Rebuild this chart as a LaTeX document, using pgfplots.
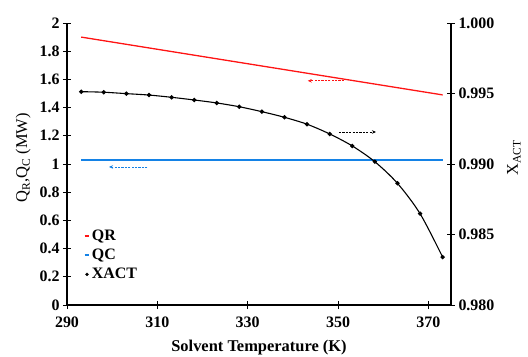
\documentclass[border=0pt]{standalone}
\usepackage{pgfplots}
\pgfplotsset{compat=1.18}
\usepackage{fontspec}
\setmainfont{Liberation Serif}
\usetikzlibrary{arrows.meta}
\definecolor{qrred}{RGB}{255,20,20}
\definecolor{qcblue}{RGB}{20,130,230}
\begin{document}
\begin{tikzpicture}
\path[use as bounding box] (-67bp,-52bp) rectangle (461bp,305bp);
\pgfplotsset{
  every axis/.append style={
    scale only axis, width=384bp, height=282bp,
    xmin=290, xmax=375,
    tick align=center, major tick length=8bp,
    axis line style={line width=1.1pt},
    tick style={line width=0.9pt, black},
    /pgf/number format/assume math mode=true,
    tick label style={font=\fontsize{16}{18}\selectfont\bfseries},
  }
}
\begin{axis}[
  axis x line*=bottom, axis y line*=left,
  ymin=0, ymax=2,
  xtick={290,310,330,350,370},
  ytick={0,0.2,0.4,0.6,0.8,1,1.2,1.4,1.6,1.8,2},
  yticklabels={0,0.2,0.4,0.6,0.8,1,1.2,1.4,1.6,1.8,2},
  xticklabel style={yshift=-4bp},
  xlabel={\fontsize{16.5}{18}\selectfont\bfseries Solvent Temperature (K)},
  ylabel={\fontsize{16.5}{18}\selectfont Q\textsubscript{R},Q\textsubscript{C} (MW)},
  xlabel style={yshift=-6bp},
  ylabel style={yshift=2bp, xshift=6bp},
  legend style={draw=none, fill=none, at={(0.035,0.28)}, anchor=north west,
    font=\fontsize{16}{18}\selectfont\bfseries, row sep=3bp,
    /tikz/every even column/.append style={column sep=0bp}},
  legend cell align=left,
]
\addplot[color=qrred, line width=1.3pt, legend image code/.code={\draw[qrred,line width=1.8pt] (0bp,0bp) -- (4.5bp,0bp);}] coordinates {(293.15,1.90) (373.15,1.49)};
\addlegendentry{QR}
\addplot[color=qcblue, line width=1.6pt, legend image code/.code={\draw[qcblue,line width=1.8pt] (0bp,0bp) -- (4.5bp,0bp);}] coordinates {(293.15,1.03) (373.15,1.03)};
\addlegendentry{QC}
\addlegendimage{legend image code/.code={\fill[black] (2.5bp,0bp) circle (1.5bp);}}
\addlegendentry{XACT}
\draw[qrred, line width=0.8pt, dash pattern=on 2.2bp off 1.2bp, -{Stealth[length=4bp,width=3.5bp]}] (axis cs:351.3,1.59) -- (axis cs:343.3,1.59);
\draw[black, line width=0.8pt, dash pattern=on 2.2bp off 1.2bp, -{Stealth[length=4bp,width=3.5bp]}] (axis cs:350.2,1.227) -- (axis cs:358.4,1.227);
\draw[qcblue, line width=0.8pt, dash pattern=on 2.2bp off 1.2bp, -{Stealth[length=4bp,width=3.5bp]}] (axis cs:307.8,0.979) -- (axis cs:299.3,0.979);
\end{axis}
\begin{axis}[
  axis x line=none, axis y line*=right,
  ymin=0.980, ymax=1.000,
  ytick={0.980,0.985,0.990,0.995,1.000},
  yticklabel style={/pgf/number format/fixed, /pgf/number format/fixed zerofill, /pgf/number format/precision=3},
  ylabel={\fontsize{16.5}{18}\selectfont X\textsubscript{ACT}},
  ylabel style={yshift=-6bp, xshift=6bp},
]
\addplot[black, line width=1.1pt, smooth, mark=*, mark size=1.6bp] coordinates {
(293.15,0.99513) (298.15,0.99509) (303.15,0.99499) (308.15,0.99489)
(313.15,0.99473) (318.15,0.99454) (323.15,0.99433) (328.15,0.99406)
(333.15,0.99371) (338.15,0.99331) (343.15,0.99282) (348.15,0.99213)
(353.15,0.99128) (358.15,0.99016) (363.15,0.98863) (368.15,0.98648)
(373.15,0.98340)};
\end{axis}
\end{tikzpicture}
\end{document}
